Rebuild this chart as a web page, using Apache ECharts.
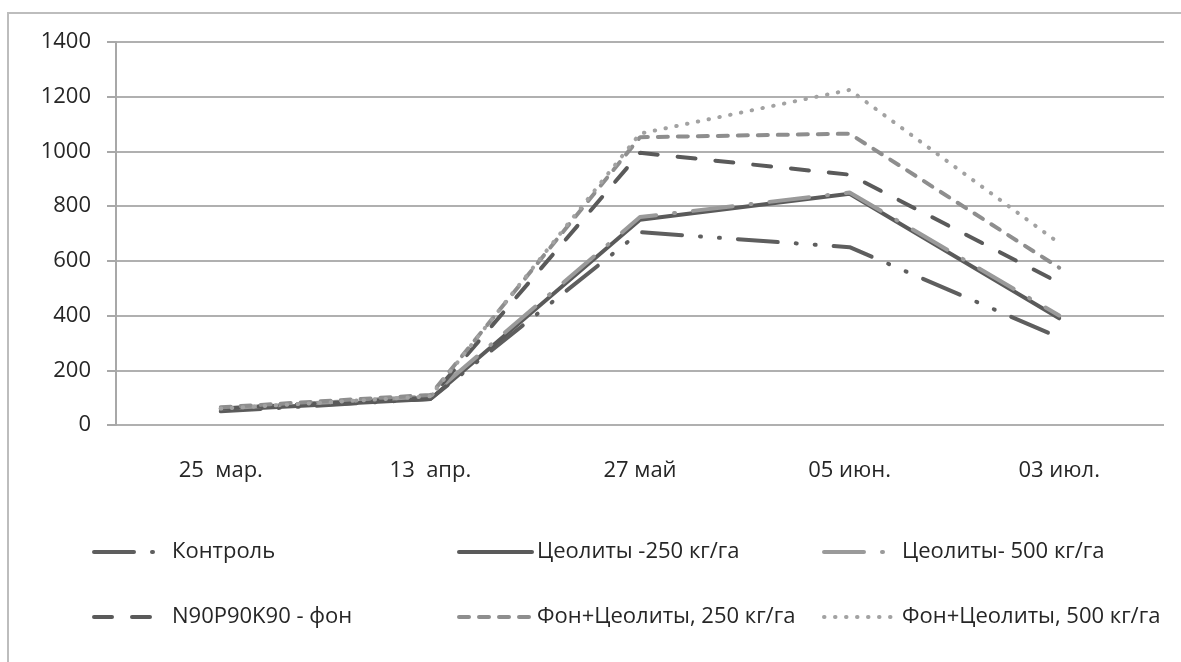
<!DOCTYPE html>
<html>
<head>
<meta charset="utf-8">
<script src="https://cdn.jsdelivr.net/npm/echarts@6/dist/echarts.min.js"></script>
<style>
  html, body { margin: 0; padding: 0; background: #fff; }
  #chart { width: 1181px; height: 662px; }
</style>
</head>
<body>
<div id="chart"></div>
<script>
// Sampling dates
const categories = ['25  мар.', '13  апр.', '27 май', '05 июн.', '03 июл.'];

// Series values
const kontrol      = [50, 95, 705, 650, 320];
const zeo250       = [55, 95, 750, 845, 390];
const zeo500       = [60, 105, 760, 850, 400];
const fon          = [60, 100, 995, 915, 520];
const fonZeo250    = [65, 110, 1052, 1065, 575];
const fonZeo500    = [60, 105, 1065, 1225, 665];

const seriesNames = [
  'Контроль',
  'Цеолиты -250 кг/га',
  'Цеолиты- 500 кг/га',
  'N90P90K90 - фон',
  'Фон+Цеолиты, 250 кг/га',
  'Фон+Цеолиты, 500 кг/га'
];

// Y axis ticks
const yMin = 0, yMax = 1400, yStep = 200;

const FONT = '"Open Sans", sans-serif';
const TEXT = '#262626';

function line(name, data, color, type, cap) {
  return {
    name, data, type: 'line',
    symbol: 'none',
    lineStyle: { color, width: 4, type, cap: cap || 'round' },
    itemStyle: { color },
    emphasis: { disabled: true }
  };
}

const series = [
  line(seriesNames[0], kontrol,   '#5e5e5e', [40, 18, 1, 18, 1, 18]),
  line(seriesNames[1], zeo250,    '#5a5a5a', 'solid'),
  line(seriesNames[2], zeo500,    '#9a9a9a', [40, 18, 1, 18]),
  line(seriesNames[3], fon,       '#5a5a5a', [18, 20]),
  line(seriesNames[4], fonZeo250, '#8e8e8e', [10, 10]),
  line(seriesNames[5], fonZeo500, '#a2a2a2', [0.5, 10.5])
];

// One legend per entry, laid out as a 3 x 2 block
const legendLefts = [87, 452, 817];
const legendTops = [536, 601];
const legends = seriesNames.map((n, i) => ({
  data: [n],
  left: legendLefts[i % 3],
  top: legendTops[Math.floor(i / 3)],
  orient: 'horizontal',
  itemWidth: 73,
  itemHeight: 14,
  selectedMode: false,
  itemStyle: { opacity: 0 },
  lineStyle: { width: 4 },
  textStyle: { fontFamily: FONT, fontSize: 22, color: TEXT }
}));

const chart = echarts.init(document.getElementById('chart'), null, { renderer: 'canvas' });
chart.setOption({
  animation: false,
  backgroundColor: '#ffffff',
  grid: { left: 116, right: 17, top: 42, bottom: 237, containLabel: false },
  legend: legends,
  graphic: [{
    type: 'rect',
    shape: { x: 8, y: 13, width: 1300, height: 800 },
    style: { fill: 'none', stroke: '#bdbdbd', lineWidth: 2 },
    silent: true
  }],
  xAxis: {
    type: 'category',
    data: categories,
    boundaryGap: true,
    axisLine: { show: false },
    axisTick: { show: false },
    axisLabel: { margin: 35, fontFamily: FONT, fontSize: 22, color: TEXT }
  },
  yAxis: {
    type: 'value',
    min: yMin, max: yMax, interval: yStep,
    axisLine: { show: true, lineStyle: { color: '#a8a8a8', width: 2 } },
    axisTick: { show: true, length: 9, lineStyle: { color: '#a8a8a8', width: 2 } },
    axisLabel: {
      margin: 25, fontFamily: FONT, fontSize: 22, color: TEXT,
      formatter: v => String(v)
    },
    splitLine: { show: true, lineStyle: { color: '#b0b0b0', width: 2 } }
  },
  series
});
</script>
</body>
</html>
